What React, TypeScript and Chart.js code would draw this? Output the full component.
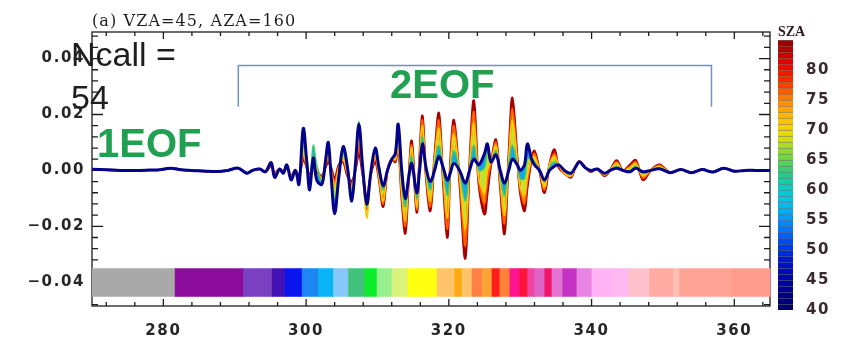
import React, { useEffect, useRef } from 'react';
import { Chart, registerables } from 'chart.js';

Chart.register(...registerables);

// ---------- data ----------
// Quiet part of the spectrum where all SZA curves coincide
const quietStartWl = [270, 272, 274, 276, 278, 279.5, 281, 282.5, 284, 286, 287.5, 289, 290.5, 291.7, 292.5, 293.5, 294.3];
const quietStart = [0.0004, 0.0002, 0, 0, 0.0001, 0.0002, 0.0008, 0.0002, 0, -0.0003, -0.0004, 0, 0.0008, -0.001, 0, 0.0005, -0.0005];

// Active part of the spectrum (values differ per SZA)
const activeWl = [
  295.1, 295.6, 296.3, 296.8, 297.3, 297.9, 298.5, 299.0, 299.6, 300.1,
  300.5, 301.0, 301.5, 302.2, 302.7, 303.1, 303.5, 304.0, 304.6, 305.2,
  305.8, 306.4, 306.9, 307.4, 307.9, 308.5, 309.1, 309.7, 310.2, 310.8,
  311.4, 312.0, 312.5,
  312.9, 313.4, 313.9, 314.4, 314.8, 315.5, 315.9, 316.3, 316.8, 317.4,
  318.0, 318.6, 319.2, 319.8, 320.2, 320.7, 321.5, 322.3, 322.9, 323.5,
  324.2, 325.0, 325.4, 325.9, 326.6, 327.2, 327.8, 328.4, 328.9, 329.6,
  330.0, 330.6, 331.0, 331.6, 332.0, 332.7, 333.4, 334.1, 334.8, 335.4,
  336.2, 337.1, 337.7, 338.3, 339.1, 339.9, 340.8, 341.8, 342.6, 343.5,
  344.4, 345.4, 346.2, 347.2, 348.3, 349.5,
];

const quietEndWl = [351, 352.5, 354, 355.5, 357, 358.5, 360, 361.5, 363, 365];
const quietEnd = [-0.0008, 0.0003, -0.0008, 0.0003, -0.0006, 0.0008, -0.0003, 0, 0, 0];

const sza40Active = [
  0.0028, -0.0025, 0.0005, -0.001, 0.002, -0.0034, 0, -0.005, 0.015, 0.003,
  -0.007, 0.0045, -0.0035, -0.005, 0.003, 0.010, -0.002, -0.0155, -0.002, 0.0085,
  0.001, -0.011, 0.002, 0.0165, 0.002, -0.012, 0, 0.008, 0.001, -0.0055,
  0, 0.004, 0.006,
  0.0165, 0, -0.010, -0.002, 0.0025, -0.008, 0, 0.0095, 0.001, -0.004,
  0, 0.005, 0.001, -0.0035, -0.001, 0.0025, 0, -0.0046, 0, 0.004,
  0.002, 0.006, 0.0095, 0.003, 0.0056, 0, -0.0046, 0, 0.004, 0.002,
  0, 0.002, 0.0095, 0.004, 0.002, 0, -0.0034, 0, 0.0015, 0.002,
  0, -0.001, 0.001, 0.003, 0.001, 0, 0.0005, -0.001, 0, 0.0008,
  0, -0.0005, 0.0008, -0.0005, 0, 0.0006,
];

const sza62Active = [
  0.0025, -0.002, 0.0005, -0.001, 0.002, -0.003, 0, -0.004, 0.009, 0.002,
  -0.005, 0.009, 0.002, -0.004, 0.003, 0.008, -0.001, -0.010, -0.001, 0.006,
  0, -0.008, 0.002, 0.0175, 0.001, -0.013, 0, 0.007, 0, -0.007,
  0, 0.004, 0.005,
  0.012, -0.004, -0.013, -0.002, 0.005, -0.010, 0.002, 0.012, 0, -0.007,
  0.002, 0.009, 0, -0.009, -0.001, 0.007, 0, -0.011, 0, 0.009,
  0, 0.001, 0.007, 0.003, 0.007, -0.002, -0.009, 0.002, 0.009, 0.002,
  -0.003, -0.003, 0.004, 0.004, 0.003, 0, -0.004, 0.001, 0.003, 0.002,
  0, -0.0015, 0.001, 0.003, 0.001, 0, 0.0005, -0.0012, 0, 0.0015,
  0, 0, 0.0015, -0.001, 0, 0.001,
];

const sza70Active = [
  0.002, -0.0015, 0.0005, -0.0005, 0.0015, -0.0025, 0, -0.003, 0.006, 0.001,
  -0.003, 0.005, 0.001, -0.003, 0.002, 0.005, 0, -0.006, 0.001, 0.004,
  -0.001, -0.006, 0.001, 0.012, 0, -0.017, -0.001, 0.005, -0.002, -0.011,
  0, 0.004, 0.004,
  0.010, -0.008, -0.018, -0.002, 0.008, -0.013, 0.004, 0.016, -0.001, -0.011,
  0.004, 0.015, -0.002, -0.017, 0, 0.013, -0.002, -0.021, 0.001, 0.017,
  -0.003, -0.008, 0, 0.003, 0.009, -0.004, -0.016, 0.004, 0.018, 0.003,
  -0.006, -0.009, -0.002, 0.004, 0.005, 0, -0.006, 0.002, 0.005, 0.002,
  -0.001, -0.002, 0.001, 0.003, 0.001, 0, 0.0005, -0.0015, 0, 0.0025,
  0, 0.001, 0.0025, -0.002, 0, 0.0015,
];

const sza78Active = [
  0.0018, -0.0012, 0.0005, -0.0005, 0.0012, -0.0022, 0, -0.0025, 0.005, 0.001,
  -0.0025, 0.003, 0.0005, -0.0025, 0.0015, 0.004, 0.0005, -0.004, 0.0015, 0.0035,
  -0.0015, -0.005, 0.0005, 0.009, -0.0005, -0.014, -0.001, 0.004, -0.0025, -0.012,
  0, 0.004, 0.0035,
  0.0095, -0.009, -0.020, -0.002, 0.009, -0.014, 0.0045, 0.018, -0.0015, -0.013,
  0.0045, 0.018, -0.003, -0.021, 0.001, 0.016, -0.003, -0.027, 0.0015, 0.021,
  -0.004, -0.012, -0.004, 0.0025, 0.010, -0.005, -0.019, 0.005, 0.022, 0.0035,
  -0.007, -0.012, -0.004, 0.004, 0.006, 0, -0.007, 0.002, 0.006, 0.0015,
  -0.001, -0.0022, 0.001, 0.0032, 0.001, -0.0003, 0.0005, -0.0018, 0, 0.003,
  0, 0.0015, 0.003, -0.0028, 0, 0.0018,
];

const sza85Active = [
  0.0015, -0.001, 0.0005, -0.0005, 0.001, -0.002, 0, -0.002, 0.004, 0.001,
  -0.002, 0.002, 0, -0.002, 0.001, 0.003, 0.001, -0.003, 0.002, 0.003,
  -0.002, -0.004, 0, 0.006, -0.001, -0.010, -0.001, 0.003, -0.003, -0.013,
  0, 0.004, 0.003,
  0.009, -0.010, -0.0225, -0.002, 0.0105, -0.015, 0.005, 0.0195, -0.002, -0.0145,
  0.005, 0.0205, -0.004, -0.024, 0.002, 0.018, -0.004, -0.0315, 0.002, 0.025,
  -0.005, -0.0157, -0.008, 0.002, 0.011, -0.006, -0.0227, 0.006, 0.026, 0.004,
  -0.008, -0.0145, -0.006, 0.004, 0.007, 0, -0.008, 0.002, 0.0075, 0.001,
  -0.001, -0.0025, 0.001, 0.0033, 0.001, -0.0005, 0.0005, -0.002, 0, 0.0036,
  0, 0.002, 0.0036, -0.0034, 0, 0.002,
];

const wavelengths = [...quietStartWl, ...activeWl, ...quietEndWl];
const sza40 = [...quietStart, ...sza40Active, ...quietEnd];
const sza62 = [...quietStart, ...sza62Active, ...quietEnd];
const sza70 = [...quietStart, ...sza70Active, ...quietEnd];
const sza78 = [...quietStart, ...sza78Active, ...quietEnd];
const sza85 = [...quietStart, ...sza85Active, ...quietEnd];

// Bracket marking the 2EOF region
const bracketWl = [290.5, 290.5, 356.8, 356.8];
const bracketY = [0.0228, 0.0375, 0.0375, 0.0228];

// Colour strip along the bottom of the panel
const stripEdges = [
  270, 281.6, 291.2, 295.2, 297.0, 299.4, 301.7, 303.8, 305.9, 308.2, 309.9,
  312.0, 314.2, 318.3, 320.8, 321.8, 323.2, 324.6, 326.0, 327.1, 328.5, 329.9,
  331.0, 332.0, 333.4, 334.4, 335.9, 337.9, 340.0, 343.0, 345.1, 348.1, 351.4,
  352.3, 359.6, 365,
];
const stripColors = [
  '#a9a9a9', '#8c0c9c', '#7a40c2', '#4412b4', '#0a14ee', '#1e86f2', '#08b4f6',
  '#86c8fa', '#42c27a', '#0cee2a', '#96f08e', '#d8f27a', '#ffff10', '#ffc46a',
  '#ffa810', '#ffc46a', '#ff8044', '#ffa236', '#ff1c1c', '#ff8236', '#ff1490',
  '#ff1436', '#f044a2', '#e064c8', '#f01464', '#e474d4', '#c434c4', '#e884e4',
  '#ffb2f4', '#ffb8f2', '#ffc2cc', '#ffaaa2', '#ffbeb2', '#ffa494', '#ff9c8c',
];
const stripTop = -0.035;
const stripBottom = -0.0452;

// SZA levels of the colour bar
const szaLevels = [
  40, 41, 42, 43, 44, 45, 46, 47, 48, 49, 50, 51, 52, 53, 54, 55, 56, 57, 58,
  59, 60, 61, 62, 63, 64, 65, 66, 67, 68, 69, 70, 71, 72, 73, 74, 75, 76, 77,
  78, 79, 80, 81, 82, 83, 84,
];

// ---------- styles ----------
const rampStops: [number, string][] = [
  [40, '#000060'], [44, '#000098'], [48, '#0010d0'], [51, '#0040f0'], [54, '#0080ff'],
  [57, '#00b8f0'], [60, '#00d0c8'], [63, '#30c880'], [66, '#80d840'], [69, '#e0e000'],
  [72, '#ffc000'], [75, '#ff8800'], [78, '#ff3000'], [81, '#f00000'], [85, '#900000'],
];

function hexToRgb(h: string) {
  return [parseInt(h.slice(1, 3), 16), parseInt(h.slice(3, 5), 16), parseInt(h.slice(5, 7), 16)];
}

function szaColor(s: number) {
  for (let i = 0; i < rampStops.length - 1; i++) {
    const [s0, c0] = rampStops[i];
    const [s1, c1] = rampStops[i + 1];
    if (s >= s0 && s <= s1) {
      const t = (s - s0) / (s1 - s0);
      const a = hexToRgb(c0);
      const b = hexToRgb(c1);
      const m = a.map((v, k) => Math.round(v + (b[k] - v) * t));
      return `rgb(${m[0]},${m[1]},${m[2]})`;
    }
  }
  return rampStops[rampStops.length - 1][1];
}

const tickFont = { family: 'DejaVu Sans', size: 15, weight: 'bold' as const };
const tickColor = '#262626';

const spacedText = {
  id: 'spacedText',
  beforeLayout(chart: any) {
    chart.ctx.letterSpacing = '1.6px';
  },
  beforeDraw(chart: any) {
    chart.ctx.letterSpacing = '1.6px';
  },
  afterDraw(chart: any) {
    chart.ctx.letterSpacing = '0px';
  },
};

const isMajorY = (v: number) => Math.abs(v / 0.02 - Math.round(v / 0.02)) < 1e-6;

const frameAndStrip = {
  id: 'frameAndStrip',
  beforeDatasetsDraw(chart: any) {
    const { ctx, chartArea: a, scales } = chart;
    const xs = scales.x;
    const ys = scales.y;
    ctx.save();
    ctx.strokeStyle = '#1c1c1c';
    ctx.lineWidth = 1.3;
    ctx.strokeRect(a.left, a.top, a.right - a.left, a.bottom - a.top);
    ctx.beginPath();
    for (const t of xs.ticks) {
      const p = xs.getPixelForValue(t.value);
      const len = t.value % 20 === 0 ? 7 : 4;
      ctx.moveTo(p, a.bottom);
      ctx.lineTo(p, a.bottom - len);
      ctx.moveTo(p, a.top);
      ctx.lineTo(p, a.top + len);
    }
    for (const t of ys.ticks) {
      const p = ys.getPixelForValue(t.value);
      const len = isMajorY(t.value) ? 11 : 6;
      ctx.moveTo(a.left, p);
      ctx.lineTo(a.left + len, p);
      ctx.moveTo(a.right, p);
      ctx.lineTo(a.right - len, p);
    }
    ctx.stroke();
    const y0 = ys.getPixelForValue(stripTop);
    const y1 = ys.getPixelForValue(stripBottom);
    for (let i = 0; i < stripColors.length; i++) {
      const x0 = xs.getPixelForValue(stripEdges[i]);
      const x1 = xs.getPixelForValue(stripEdges[i + 1]);
      ctx.fillStyle = stripColors[i];
      ctx.fillRect(x0, y0, x1 - x0 + 0.6, y1 - y0);
    }
    ctx.restore();
  },
};

const toPoints = (ys: number[]) => wavelengths.map((x, i) => ({ x, y: ys[i] }));

const curveStyles = [
  { label: 'SZA 40', values: sza40, line: '#02028a', width: 3, band: '#12a8ec' },
  { label: 'SZA 62', values: sza62, line: '#38cc70', width: 1.4, band: '#c2e232' },
  { label: 'SZA 70', values: sza70, line: '#ffc800', width: 1.6, band: '#ff9a00' },
  { label: 'SZA 78', values: sza78, line: '#ff5a00', width: 1.8, band: '#f02c00' },
  { label: 'SZA 85', values: sza85, line: '#a80000', width: 2.4, band: '' },
];

export default function App() {
  const mainRef = useRef<HTMLCanvasElement>(null);
  const barRef = useRef<HTMLCanvasElement>(null);

  useEffect(() => {
    if (!mainRef.current || !barRef.current) return;

    const datasets: any[] = curveStyles.map((c) => ({
      label: c.label,
      data: toPoints(c.values),
      borderColor: c.line,
      borderWidth: c.width,
      backgroundColor: c.band || 'transparent',
      fill: c.band ? '+1' : false,
      pointRadius: 0,
      tension: 0.35,
    }));
    datasets.push({
      label: 'bracket',
      data: bracketWl.map((x, i) => ({ x, y: bracketY[i] })),
      borderColor: '#7090c6',
      borderWidth: 1.5,
      fill: false,
      pointRadius: 0,
      tension: 0,
    });

    const main = new Chart(mainRef.current, {
      type: 'line',
      data: { datasets },
      options: {
        responsive: false,
        animation: false,
        events: [],
        layout: { padding: { left: 0, right: 76, top: 32, bottom: 0 } },
        plugins: {
          legend: { display: false },
          tooltip: { enabled: false },
          filler: { drawTime: 'beforeDatasetsDraw' },
        } as any,
        scales: {
          x: {
            type: 'linear',
            min: 270,
            max: 365,
            grid: { display: false, drawTicks: false },
            border: { display: false },
            ticks: {
              stepSize: 4,
              autoSkip: false,
              maxTicksLimit: 200,
              includeBounds: false,
              maxRotation: 0,
              padding: 16,
              font: tickFont,
              color: tickColor,
              callback: (v: any) => (Number(v) % 20 === 0 ? String(v) : ''),
            },
            afterFit: (s: any) => {
              s.height = 41;
            },
          },
          y: {
            type: 'linear',
            min: -0.0485,
            max: 0.0495,
            grid: { display: false, drawTicks: false },
            border: { display: false },
            ticks: {
              stepSize: 0.004,
              autoSkip: false,
              maxTicksLimit: 200,
              includeBounds: false,
              padding: 7,
              font: tickFont,
              color: tickColor,
              callback: (v: any) => {
                const n = Math.round(Number(v) * 1000) / 1000;
                if (!isMajorY(n)) return '';
                return (n === 0 ? 0 : n).toFixed(2).replace('-', '\u2212');
              },
            },
            afterFit: (s: any) => {
              s.width = 92;
            },
          },
        },
      } as any,
      plugins: [spacedText, frameAndStrip],
    });

    const bar = new Chart(barRef.current, {
      type: 'bar',
      data: {
        labels: ['SZA'],
        datasets: szaLevels.map((s) => ({
          label: String(s),
          data: [[s, s + 1]],
          backgroundColor: szaColor(s + 0.5),
          borderColor: 'rgba(0,0,0,0.55)',
          borderWidth: { top: 0.8, bottom: 0, left: 0, right: 0 },
          borderSkipped: false,
          grouped: false,
          barPercentage: 1,
          categoryPercentage: 1,
        })) as any,
      },
      options: {
        responsive: false,
        animation: false,
        events: [],
        layout: { padding: { left: 8, right: 0, top: 40, bottom: 37 } },
        plugins: { legend: { display: false }, tooltip: { enabled: false } },
        scales: {
          x: { display: false },
          y: {
            type: 'linear',
            position: 'right',
            min: 40,
            max: 85,
            grid: { display: false, drawTicks: false },
            border: { display: false },
            ticks: {
              stepSize: 5,
              padding: 13,
              font: tickFont,
              color: '#3a2a2e',
              callback: (v: any) => (Number(v) < 85 ? String(v) : ''),
            },
            afterFit: (s: any) => {
              s.width = 53;
            },
          },
        },
      } as any,
      plugins: [spacedText],
    });

    return () => {
      main.destroy();
      bar.destroy();
    };
  }, []);

  const serifTitle: React.CSSProperties = {
    position: 'absolute',
    left: 92,
    top: 13,
    fontFamily: '"DejaVu Serif", serif',
    fontSize: 16,
    lineHeight: '16px',
    letterSpacing: '1.1px',
    color: '#1e1e1e',
    whiteSpace: 'nowrap',
  };
  const eofStyle: React.CSSProperties = {
    position: 'absolute',
    fontFamily: '"Liberation Sans", Arial, sans-serif',
    fontWeight: 'bold',
    fontSize: 40,
    lineHeight: '40px',
    color: '#22a052',
    whiteSpace: 'nowrap',
  };

  return (
    <div
      style={{
        position: 'fixed',
        left: 0,
        top: 0,
        width: 846,
        height: 347,
        background: '#ffffff',
        overflow: 'hidden',
      }}
    >
      <canvas ref={mainRef} width={846} height={347} style={{ position: 'absolute', left: 0, top: 0 }} />
      <canvas ref={barRef} width={76} height={347} style={{ position: 'absolute', left: 770, top: 0 }} />
      <div style={serifTitle}>(a) VZA=45, AZA=160</div>
      <div
        style={{
          position: 'absolute',
          left: 778,
          top: 25,
          fontFamily: '"Liberation Serif", serif',
          fontWeight: 'bold',
          fontSize: 14,
          lineHeight: '14px',
          color: '#2a1a20',
        }}
      >
        SZA
      </div>
      <div
        style={{
          position: 'absolute',
          left: 71,
          top: 33,
          fontFamily: '"Liberation Sans", Arial, sans-serif',
          fontSize: 34,
          lineHeight: '43px',
          color: '#1e1e1e',
          whiteSpace: 'nowrap',
        }}
      >
        Ncall =<br />
        54
      </div>
      <div style={{ ...eofStyle, left: 97, top: 123 }}>1EOF</div>
      <div style={{ ...eofStyle, left: 390, top: 64 }}>2EOF</div>
    </div>
  );
}
